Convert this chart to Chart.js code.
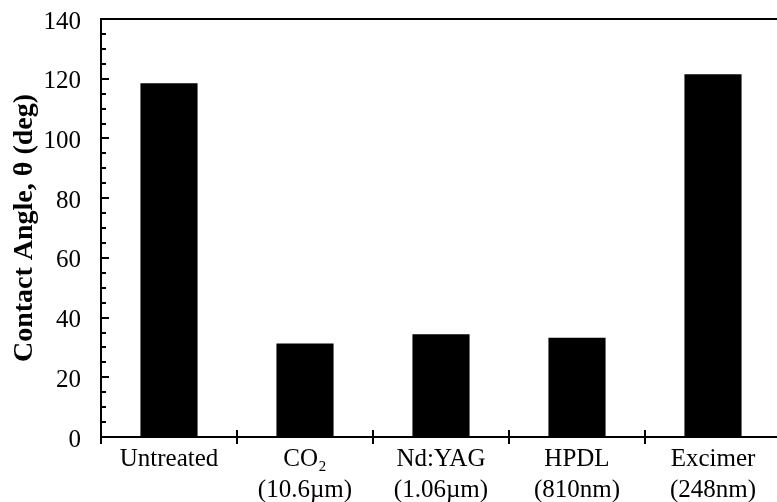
<!DOCTYPE html>
<html>
<head>
<meta charset="utf-8">
<script src="https://cdn.jsdelivr.net/npm/chart.js@4"></script>
<style>
  html, body { margin: 0; padding: 0; background: #fff; overflow: hidden; }
  #wrap { width: 800px; height: 502px; }
</style>
</head>
<body>
<div id="wrap"><canvas id="angleChart" width="800" height="502"></canvas></div>
<script>
const categories = [
  ["Untreated"],
  ["CO\u2082", "(10.6\u00b5m)"],
  ["Nd:YAG", "(1.06\u00b5m)"],
  ["HPDL", "(810nm)"],
  ["Excimer", "(248nm)"]
];
const contactAngle = [118.5, 31.3, 34.4, 33.2, 121.5];
const yMax = 140;
const yLabelStep = 20;
const yMinorStep = 5;

const serif = "'Liberation Serif', 'Times New Roman', serif";

// inward y ticks, crossing x ticks, top frame line
const frameTicks = {
  id: "frameTicks",
  afterDraw(chart) {
    const ctx = chart.ctx;
    const area = chart.chartArea;
    const x = chart.scales.x;
    const y = chart.scales.y;
    ctx.save();
    ctx.strokeStyle = "#000";
    ctx.lineWidth = 2;

    ctx.beginPath();
    ctx.moveTo(area.left - 1, area.top);
    ctx.lineTo(area.right, area.top);
    ctx.stroke();

    y.ticks.forEach(t => {
      const py = Math.round(y.getPixelForValue(t.value));
      const len = t.value % yLabelStep === 0 ? 8 : 5;
      ctx.beginPath();
      ctx.moveTo(area.left, py);
      ctx.lineTo(area.left + len, py);
      ctx.stroke();
    });

    const n = categories.length;
    for (let i = 0; i <= n; i++) {
      const px = Math.round(x.left + i * (x.width / n));
      ctx.beginPath();
      ctx.moveTo(px, area.bottom - 7);
      ctx.lineTo(px, area.bottom + 7);
      ctx.stroke();
    }
    ctx.restore();
  }
};

new Chart(document.getElementById("angleChart"), {
  type: "bar",
  data: {
    labels: categories,
    datasets: [{
      data: contactAngle,
      backgroundColor: "#000",
      categoryPercentage: 1,
      barPercentage: 0.42
    }]
  },
  options: {
    responsive: false,
    animation: false,
    layout: { padding: { top: 19, right: 19, left: 0, bottom: 0 } },
    plugins: {
      legend: { display: false },
      tooltip: { enabled: false }
    },
    scales: {
      x: {
        grid: { display: false, drawTicks: false },
        border: { display: true, color: "#000", width: 2 },
        ticks: {
          color: "#000",
          font: { family: serif, size: 25, lineHeight: 1.25 },
          padding: 7,
          maxRotation: 0,
          autoSkip: false
        },
        afterFit(scale) {
          scale.height = 65;
          scale.paddingLeft = 0;
          scale.paddingRight = 0;
        }
      },
      y: {
        min: 0,
        max: yMax,
        grid: { display: false, drawTicks: false },
        border: { display: true, color: "#000", width: 2 },
        ticks: {
          stepSize: yMinorStep,
          autoSkip: false,
          color: "#000",
          font: { family: serif, size: 25 },
          padding: 20,
          labelOffset: 3,
          callback: v => (v % yLabelStep === 0 ? v : "")
        },
        title: {
          display: true,
          text: "Contact Angle, \u03b8 (deg)",
          color: "#000",
          font: { family: serif, size: 28, weight: "bold" },
          padding: { top: 8, bottom: 0 }
        },
        afterFit(scale) {
          scale.width = 101;
          scale.paddingTop = 0;
          scale.paddingBottom = 0;
        }
      }
    }
  },
  plugins: [frameTicks]
});
</script>
</body>
</html>
